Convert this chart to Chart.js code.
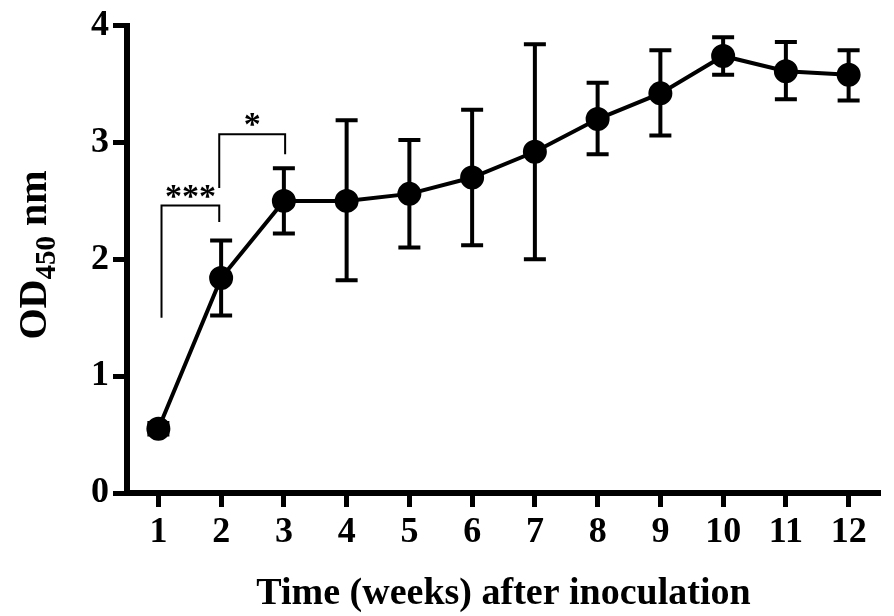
<!DOCTYPE html>
<html>
<head>
<meta charset="utf-8">
<script src="https://cdn.jsdelivr.net/npm/chart.js@4.4.1/dist/chart.umd.min.js"></script>
<style>
  html, body { margin: 0; padding: 0; background: #fff; }
  #wrap { width: 894px; height: 616px; }
</style>
</head>
<body>
<div id="wrap"><canvas id="c" width="894" height="616"></canvas></div>
<script>
// OD450 readings per week
const weeks = [1, 2, 3, 4, 5, 6, 7, 8, 9, 10, 11, 12];
const odMean = [0.55, 1.84, 2.50, 2.50, 2.56, 2.70, 2.92, 3.20, 3.42, 3.74, 3.61, 3.58];
const odLow  = [0.50, 1.52, 2.22, 1.82, 2.10, 2.12, 2.00, 2.90, 3.06, 3.58, 3.37, 3.36];
const odHigh = [0.60, 2.16, 2.78, 3.19, 3.02, 3.28, 3.84, 3.51, 3.79, 3.90, 3.86, 3.79];
const yTicks = [0, 1, 2, 3, 4];

// significance brackets
const bracketA = {x: [1.05, 1.05, 1.97, 1.97], y: [1.50, 2.46, 2.46, 2.32], label: '***'};
const bracketB = {x: [1.97, 1.97, 3.02, 3.02], y: [2.61, 3.07, 3.07, 2.90], label: '*'};

const FONT = '"Liberation Serif", "Times New Roman", serif';

const toXY = (xs, ys) => xs.map((x, i) => ({x: x, y: ys[i]}));

const errorBars = {
  id: 'errorBars',
  afterDatasetsDraw(chart) {
    const {ctx, scales: {x, y}} = chart;
    ctx.save();
    ctx.strokeStyle = '#000';
    ctx.lineWidth = 4;
    ctx.lineCap = 'butt';
    weeks.forEach((w, i) => {
      const px = x.getPixelForValue(w);
      const lo = y.getPixelForValue(odLow[i]);
      const hi = y.getPixelForValue(odHigh[i]);
      ctx.beginPath();
      ctx.moveTo(px, lo); ctx.lineTo(px, hi);
      ctx.moveTo(px - 11, lo); ctx.lineTo(px + 11, lo);
      ctx.moveTo(px - 11, hi); ctx.lineTo(px + 11, hi);
      ctx.stroke();
    });
    ctx.restore();
  }
};

const labels = {
  id: 'labels',
  afterDraw(chart) {
    const {ctx, chartArea, scales: {x, y}} = chart;
    ctx.save();
    ctx.fillStyle = '#000';

    // stars over brackets
    ctx.font = 'bold 34px ' + FONT;
    ctx.textAlign = 'center';
    ctx.textBaseline = 'alphabetic';
    [bracketA, bracketB].forEach(b => {
      const cx = x.getPixelForValue((b.x[1] + b.x[2]) / 2);
      const cy = y.getPixelForValue(b.y[1]);
      ctx.fillText(b.label, cx, cy + 1);
    });

    // x title
    ctx.font = 'bold 38px ' + FONT;
    ctx.fillText('Time (weeks) after inoculation', (chartArea.left + chartArea.right) / 2, 604);

    // y title with subscript
    ctx.translate(46, 255);
    ctx.rotate(-Math.PI / 2);
    ctx.textAlign = 'left';
    const big = 'bold 40px ' + FONT, small = 'bold 29px ' + FONT;
    ctx.font = big; const w1 = ctx.measureText('OD').width, w3 = ctx.measureText(' nm').width;
    ctx.font = small; const w2 = ctx.measureText('450').width;
    let sx = -(w1 + w2 + w3) / 2;
    ctx.font = big; ctx.fillText('OD', sx, 0); sx += w1;
    ctx.font = small; ctx.fillText('450', sx, 9); sx += w2;
    ctx.font = big; ctx.fillText(' nm', sx, 0);
    ctx.restore();
  }
};

new Chart(document.getElementById('c'), {
  type: 'scatter',
  data: {
    datasets: [
      {
        data: toXY(weeks, odMean),
        showLine: true,
        borderColor: '#000',
        backgroundColor: '#000',
        borderWidth: 4,
        pointRadius: 10,
        clip: false,
        order: 1
      },
      {
        data: toXY(bracketA.x, bracketA.y),
        showLine: true,
        borderColor: '#000',
        borderWidth: 2,
        pointRadius: 0,
        clip: false,
        order: 2
      },
      {
        data: toXY(bracketB.x, bracketB.y),
        showLine: true,
        borderColor: '#000',
        borderWidth: 2,
        pointRadius: 0,
        clip: false,
        order: 2
      }
    ]
  },
  options: {
    responsive: false,
    animation: false,
    layout: {padding: {top: 17, right: 4, left: 0, bottom: 0}},
    plugins: {legend: {display: false}, tooltip: {enabled: false}},
    scales: {
      x: {
        type: 'linear',
        min: 0.5,
        max: 12.5,
        afterBuildTicks: s => { s.ticks = weeks.map(v => ({value: v})); },
        afterFit: s => { s.height = 123; },
        grid: {drawOnChartArea: false, color: '#000', tickLength: 14, tickWidth: 5},
        border: {display: true, color: '#000', width: 6},
        ticks: {color: '#000', font: {family: FONT, size: 36, weight: 'bold'}, padding: 4, maxRotation: 0, autoSkip: false}
      },
      y: {
        min: 0,
        max: 4,
        afterBuildTicks: s => { s.ticks = yTicks.map(v => ({value: v})); },
        afterFit: s => { s.width = 127; },
        grid: {drawOnChartArea: false, color: '#000', tickLength: 14, tickWidth: 5},
        border: {display: true, color: '#000', width: 6},
        ticks: {color: '#000', font: {family: FONT, size: 36, weight: 'bold'}, padding: 4}
      }
    }
  },
  plugins: [errorBars, labels]
});
</script>
</body>
</html>
